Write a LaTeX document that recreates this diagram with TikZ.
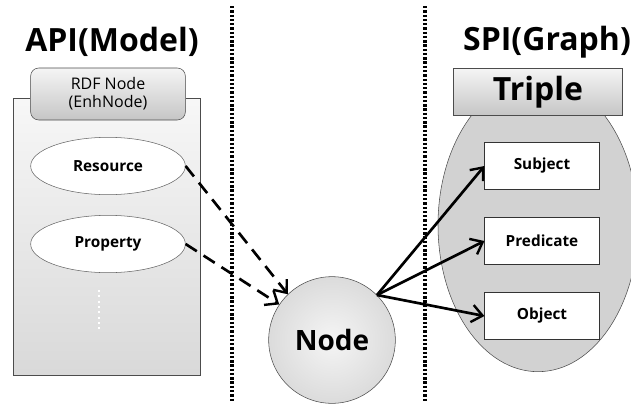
\documentclass[tikz,border=0pt]{standalone}
\usepackage{fontspec}
\setmainfont{Open Sans}
\usetikzlibrary{shapes.geometric,arrows.meta}

\begin{document}
\begin{tikzpicture}[x=0.75pt,y=-0.75pt,
    title/.style={font=\fontsize{24}{26}\selectfont\bfseries},
    shadebox/.style={draw=black!70,top color=gray!8,bottom color=gray!45},
    item/.style={draw=black!60,ellipse,fill=white,minimum width=116pt,minimum height=43pt,font=\fontsize{11.5}{13}\selectfont\bfseries},
    part/.style={draw=black!80,fill=white,minimum width=86pt,minimum height=35pt,font=\fontsize{11.5}{13}\selectfont\bfseries},
    divider/.style={line width=2.6pt,dash pattern=on 1.8pt off 1.4pt},
    link/.style={line width=2pt,-{Straight Barb[length=8pt,width=13pt,line width=1.8pt]}},
    dlink/.style={link,dash pattern=on 10pt off 6pt}]
    \useasboundingbox (0,0) rectangle (631,407);
    % dividers
    \draw[divider] (232,6) -- (232,402);
    \draw[divider] (425,6) -- (425,402);
    % API side
    \node[title] (api) at (112,42) {API(Model)};
    \draw[draw=black!70,top color=gray!6,bottom color=gray!30] (13,98) rectangle (200,375);
    \node[shadebox,rounded corners=6pt,minimum width=116pt,minimum height=39pt,align=center,font=\fontsize{12}{13.5}\selectfont,inner sep=1pt] (rdf) at (108,94) {RDF Node\\(EnhNode)};
    \node[item] (res) at (108,166) {Resource};
    \node[item] (prop) at (108,244) {Property};
    \draw[white,line width=1.5pt,dash pattern=on 1.5pt off 2.5pt] (99,290) -- (99,332);
    % node in the middle
    \node[circle,draw=black!70,inner color=gray!8,outer color=gray!28,minimum size=95pt,font=\fontsize{21}{24}\selectfont\bfseries] (node) at (332,340) {Node};
    % SPI side
    \node[title] (spi) at (547,42) {SPI(Graph)};
    \node[ellipse,draw=black!70,fill=gray!35,minimum width=150pt,minimum height=220pt] (graph) at (538,225) {};
    \node[shadebox,minimum width=127pt,minimum height=35pt,font=\fontsize{24}{26}\selectfont\bfseries,inner sep=0pt] (triple) at (538,92) {Triple};
    \node[part] (subj) at (542,166) {Subject};
    \node[part] (pred) at (542,241) {Predicate};
    \node[part] (obj) at (542,316) {Object};
    % connectors
    \draw[dlink] (res.east) -- (node.134);
    \draw[dlink] (prop.east) -- (node.146);
    \draw[link] (node.45) -- (subj.west);
    \draw[link] (node.45) -- (pred.west);
    \draw[link] (node.45) -- (obj.west);
\end{tikzpicture}
\end{document}
